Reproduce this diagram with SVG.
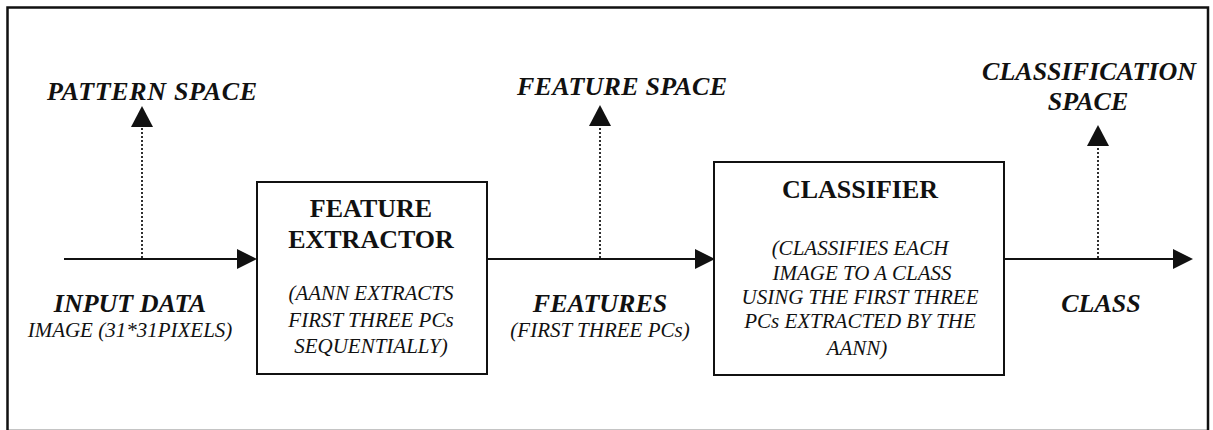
<svg xmlns="http://www.w3.org/2000/svg" width="1213" height="430" viewBox="0 0 1213 430">
  <style>
    .frame { fill: none; stroke: #111; stroke-width: 2.5; }
    .box { fill: #fff; stroke: #111; stroke-width: 2; }
    .flow { stroke: #111; stroke-width: 2; fill: none; }
    .probe { stroke: #1a1a1a; stroke-width: 1.8; stroke-dasharray: 2 2; fill: none; }
    text { font-family: "Liberation Serif", "Times New Roman", serif; fill: #111; }
    .title { font-size: 26px; font-weight: bold; text-anchor: middle; }
    .space { font-size: 26px; font-weight: bold; font-style: italic; }
    .label { font-size: 26px; font-weight: bold; font-style: italic; text-anchor: middle; }
    .note { font-size: 21px; font-style: italic; text-anchor: middle; }
  </style>
  <defs>
    <marker id="head" markerUnits="userSpaceOnUse" markerWidth="22" markerHeight="22" refX="16" refY="10" orient="auto">
      <path d="M0,0 L20,10 L0,20 Z" fill="#111"/>
    </marker>
    <marker id="headUp" markerUnits="userSpaceOnUse" markerWidth="24" markerHeight="24" refX="15" refY="11" orient="auto">
      <path d="M0,0 L21,11 L0,22 Z" fill="#111"/>
    </marker>
  </defs>

  <!-- outer frame -->
  <rect class="frame" x="7.5" y="7.5" width="1200.5" height="423.5"/>

  <g id="connectors">
    <line class="flow" x1="64" y1="259" x2="253" y2="259" marker-end="url(#head)"/>
    <line class="flow" x1="487" y1="259" x2="711" y2="259" marker-end="url(#head)"/>
    <line class="flow" x1="1004" y1="259" x2="1189" y2="259" marker-end="url(#head)"/>
    <line class="probe" x1="142" y1="258" x2="142" y2="112" marker-end="url(#headUp)"/>
    <line class="probe" x1="600" y1="258" x2="600" y2="111" marker-end="url(#headUp)"/>
    <line class="probe" x1="1098" y1="258" x2="1098" y2="131" marker-end="url(#headUp)"/>
  </g>

  <g id="pattern-space">
    <text class="space" x="47" y="100" textLength="210" lengthAdjust="spacing">PATTERN SPACE</text>
  </g>
  <g id="feature-space">
    <text class="space" x="517" y="95" textLength="210" lengthAdjust="spacing">FEATURE SPACE</text>
  </g>
  <g id="classification-space">
    <text class="space" x="1089" y="80" text-anchor="middle">CLASSIFICATION</text>
    <text class="space" x="1088" y="110" text-anchor="middle">SPACE</text>
  </g>

  <g id="input-data">
    <text class="label" x="130" y="312">INPUT DATA</text>
    <text class="note" x="130" y="337">IMAGE (31*31PIXELS)</text>
  </g>

  <g id="feature-extractor">
    <rect class="box" x="257" y="182" width="230" height="192"/>
    <text class="title" x="371" y="217">FEATURE</text>
    <text class="title" x="371" y="248">EXTRACTOR</text>
    <text class="note" x="371" y="300">(AANN EXTRACTS</text>
    <text class="note" x="371" y="327">FIRST THREE PCs</text>
    <text class="note" x="371" y="353">SEQUENTIALLY)</text>
  </g>

  <g id="features">
    <text class="label" x="600" y="312">FEATURES</text>
    <text class="note" x="600" y="337">(FIRST THREE PCs)</text>
  </g>

  <g id="classifier">
    <rect class="box" x="714" y="162" width="290" height="213"/>
    <text class="title" x="860" y="198">CLASSIFIER</text>
    <text class="note" x="860" y="255">(CLASSIFIES EACH</text>
    <text class="note" x="862" y="280">IMAGE TO A CLASS</text>
    <text class="note" x="860" y="304">USING THE FIRST THREE</text>
    <text class="note" x="860" y="328">PCs EXTRACTED BY THE</text>
    <text class="note" x="857" y="355">AANN)</text>
  </g>

  <g id="class">
    <text class="label" x="1101" y="312">CLASS</text>
  </g>
</svg>
